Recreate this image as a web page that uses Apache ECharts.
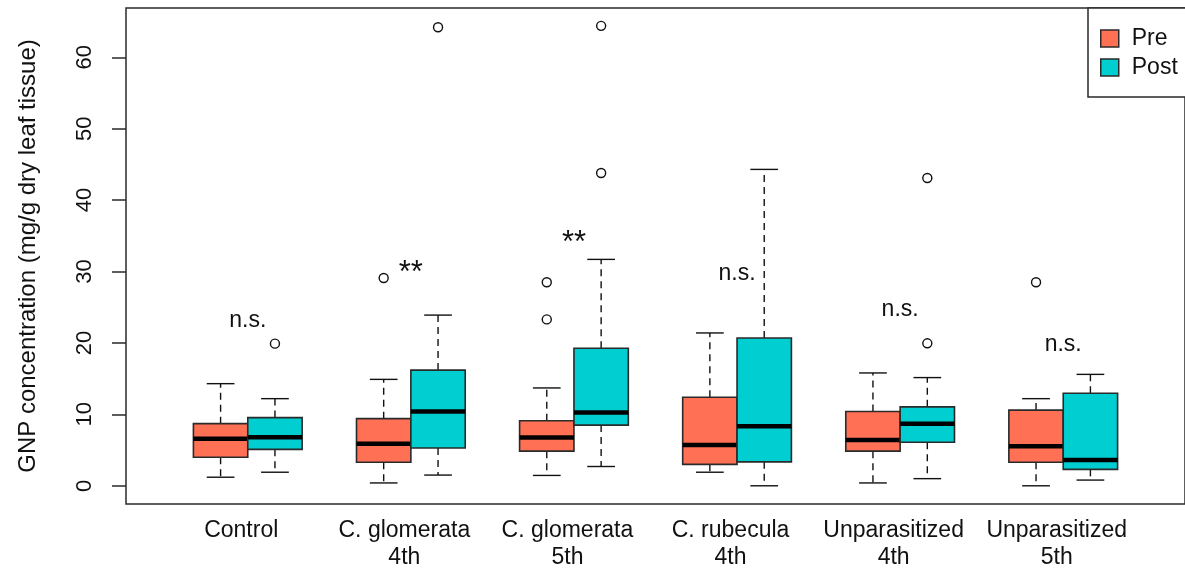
<!DOCTYPE html>
<html>
<head>
<meta charset="utf-8">
<script src="https://cdn.jsdelivr.net/npm/echarts@6/dist/echarts.min.js"></script>
<style>
html,body{margin:0;padding:0;background:#fff;}
#chart{width:1185px;height:571px;}
</style>
</head>
<body>
<div id="chart"></div>
<script>
// ---- data ----
const categories = ['Control', 'C. glomerata\n4th', 'C. glomerata\n5th', 'C. rubecula\n4th', 'Unparasitized\n4th', 'Unparasitized\n5th'];
// [lower whisker, Q1, median, Q3, upper whisker]
const preStats = [
  [1.2, 4.0, 6.6, 8.7, 14.3],
  [0.4, 3.3, 5.9, 9.4, 14.9],
  [1.45, 4.85, 6.75, 9.1, 13.7],
  [1.9, 3.0, 5.7, 12.4, 21.4],
  [0.4, 4.85, 6.4, 10.4, 15.8],
  [0.0, 3.3, 5.55, 10.6, 12.2]
];
const postStats = [
  [1.9, 5.1, 6.8, 9.55, 12.2],
  [1.5, 5.3, 10.4, 16.2, 23.9],
  [2.7, 8.5, 10.25, 19.25, 31.7],
  [0.0, 3.35, 8.35, 20.7, 44.3],
  [1.0, 6.1, 8.7, 11.05, 15.15],
  [0.8, 2.3, 3.6, 12.95, 15.6]
];
const preOutliers = [[], [29.1], [28.5, 23.3], [], [], [28.5]];
const postOutliers = [[19.9], [64.2], [64.4, 43.8], [], [43.1, 19.95], []];
const annotations = ['n.s.', '**', '**', 'n.s.', 'n.s.', 'n.s.'];
const annotationY = [23.1, 29.8, 33.9, 29.7, 24.7, 19.7];
const yTicks = [0, 10, 20, 30, 40, 50, 60];
const seriesNames = ['Pre', 'Post'];
const yTitle = 'GNP concentration (mg/g dry leaf tissue)';

// ---- build ----
const PRE_COLOR = '#FF7055';
const POST_COLOR = '#00CED1';
const FONT = '"Liberation Sans", Arial, Helvetica, sans-serif';
const TXT = '#111111';

function prePos(i) { return 1 + 3 * i; }
function postPos(i) { return 2 + 3 * i; }
const labelPos = categories.map((c, i) => 1.5 + 3 * i - 0.12);

function renderBox(params, api) {
  const x = api.value(0);
  const low = api.value(1), q1 = api.value(2), med = api.value(3), q3 = api.value(4), high = api.value(5);
  const hw = 0.5, cw = 0.255;
  const color = api.visual('color');
  const tl = api.coord([x - hw, q3]);
  const br = api.coord([x + hw, q1]);
  const c = (a, b) => api.coord([a, b]);
  const dash = { stroke: '#111', lineWidth: 1.4, lineDash: [7, 5], fill: null };
  const solid = { stroke: '#111', lineWidth: 1.4, fill: null };
  const pHigh = c(x, high), pQ3 = c(x, q3), pQ1 = c(x, q1), pLow = c(x, low);
  return {
    type: 'group',
    children: [
      { type: 'line', shape: { x1: pQ3[0], y1: pQ3[1], x2: pHigh[0], y2: pHigh[1] }, style: dash },
      { type: 'line', shape: { x1: pQ1[0], y1: pQ1[1], x2: pLow[0], y2: pLow[1] }, style: dash },
      { type: 'line', shape: { x1: c(x - cw, high)[0], y1: pHigh[1], x2: c(x + cw, high)[0], y2: pHigh[1] }, style: solid },
      { type: 'line', shape: { x1: c(x - cw, low)[0], y1: pLow[1], x2: c(x + cw, low)[0], y2: pLow[1] }, style: solid },
      { type: 'rect', shape: { x: tl[0], y: tl[1], width: br[0] - tl[0], height: br[1] - tl[1] },
        style: { fill: color, stroke: '#2a2a2a', lineWidth: 1.6 } },
      { type: 'line', shape: { x1: c(x - hw, med)[0], y1: c(x, med)[1], x2: c(x + hw, med)[0], y2: c(x, med)[1] },
        style: { stroke: '#000', lineWidth: 4.5 } }
    ]
  };
}

const outlierData = [];
preOutliers.forEach((arr, i) => arr.forEach(v => outlierData.push([prePos(i), v])));
postOutliers.forEach((arr, i) => arr.forEach(v => outlierData.push([postPos(i), v])));

const annData = annotations.map((t, i) => ({
  value: [1.5 + 3 * i, annotationY[i]], name: t,
  label: { fontSize: t === '**' ? 31 : 23 }
}));

const chart = echarts.init(document.getElementById('chart'), null, { renderer: 'canvas' });
chart.setOption({
  animation: false,
  backgroundColor: '#fff',
  textStyle: { fontFamily: FONT },
  grid: { left: 126, top: 8, width: 1067, height: 498, show: true, borderColor: '#2a2a2a', borderWidth: 1.5, backgroundColor: 'transparent' },
  legend: {
    left: 1088, top: 8, orient: 'vertical',
    padding: [19, 40, 18, 12],
    itemGap: 6, itemWidth: 18, itemHeight: 17,
    borderColor: '#2a2a2a', borderWidth: 1.5, borderRadius: 0, backgroundColor: '#fff',
    selectedMode: false,
    textStyle: { fontSize: 23, lineHeight: 23, color: TXT, fontFamily: FONT, padding: [0, 0, 0, 8] },
    data: [
      { name: seriesNames[0], icon: 'rect', itemStyle: { color: PRE_COLOR, borderColor: '#2a2a2a', borderWidth: 1.5 } },
      { name: seriesNames[1], icon: 'rect', itemStyle: { color: POST_COLOR, borderColor: '#2a2a2a', borderWidth: 1.5 } }
    ]
  },
  xAxis: {
    type: 'value', min: -0.74, max: 18.74,
    splitLine: { show: false }, axisLine: { show: false, onZero: false }, axisTick: { show: false },
    axisLabel: {
      customValues: labelPos,
      formatter: v => categories[Math.round((v - 1.38) / 3)],
      fontSize: 23, lineHeight: 27, color: TXT, margin: 13, fontFamily: FONT
    }
  },
  yAxis: {
    type: 'value', min: -2.55, max: 66.9,
    name: yTitle, nameLocation: 'middle', nameGap: 86,
    nameTextStyle: { fontSize: 24, color: TXT, fontFamily: FONT },
    splitLine: { show: false }, axisLine: { show: false, onZero: false },
    axisTick: { show: true, customValues: yTicks, length: 14, lineStyle: { color: '#2a2a2a', width: 1.5 } },
    axisLabel: { customValues: yTicks, rotate: 90, fontSize: 22, color: TXT, margin: 30, fontFamily: FONT }
  },
  series: [
    { name: seriesNames[0], type: 'custom', renderItem: renderBox, itemStyle: { color: PRE_COLOR },
      encode: { x: 0, y: [1, 2, 3, 4, 5] }, clip: false,
      data: preStats.map((s, i) => [prePos(i)].concat(s)) },
    { name: seriesNames[1], type: 'custom', renderItem: renderBox, itemStyle: { color: POST_COLOR },
      encode: { x: 0, y: [1, 2, 3, 4, 5] }, clip: false,
      data: postStats.map((s, i) => [postPos(i)].concat(s)) },
    { name: 'outliers', type: 'scatter', symbol: 'circle', symbolSize: 9, z: 5,
      itemStyle: { color: '#fff', borderColor: '#111', borderWidth: 1.4, opacity: 1 },
      data: outlierData },
    { name: 'annotations', type: 'scatter', symbolSize: 0, z: 6,
      itemStyle: { color: '#111', opacity: 1 },
      label: { show: true, position: 'inside', formatter: '{b}', fontSize: 23, color: TXT, fontFamily: FONT,
        textBorderWidth: 0, textBorderColor: 'transparent', opacity: 1 },
      data: annData }
  ]
});
</script>
</body>
</html>
